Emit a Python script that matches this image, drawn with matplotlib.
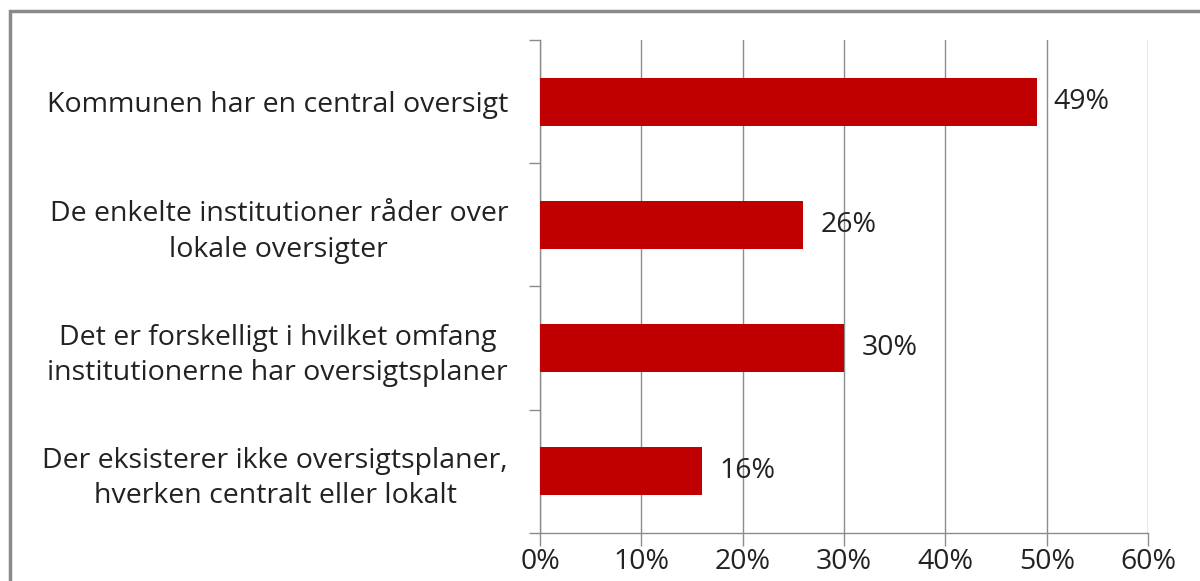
import matplotlib.pyplot as plt
from matplotlib.patches import Rectangle
import numpy as np

categories = [
    "Kommunen har en central oversigt",
    "De enkelte institutioner råder over\nlokale oversigter",
    "Det er forskelligt i hvilket omfang\ninstitutionerne har oversigtsplaner",
    "Der eksisterer ikke oversigtsplaner,\nhverken centralt eller lokalt",
]
values = [49, 26, 30, 16]
xticks = [0, 10, 20, 30, 40, 50, 60]

plt.rcParams['font.family'] = ['Open Sans', 'DejaVu Sans']
text_color = '#222222'
grid_color = '#8c8c8c'
fs = 20.5

fig = plt.figure(figsize=(12, 5.81), dpi=100)
ax = fig.add_axes([0.45, 0.0826, 0.9567 - 0.45, 0.9312 - 0.0826])

y = np.arange(len(categories))
ax.barh(y, values, height=0.39, color='#C00000', zorder=3)
for yi, v in zip(y, values):
    ax.text(v + 1.7, yi, f"{v}%", va='center', ha='left', fontsize=fs, color=text_color)

ax.set_xlim(0, 60)
ax.set_ylim(len(categories) - 0.5, -0.5)
ax.set_xticks(xticks)
ax.set_xticklabels([f"{t}%" for t in xticks], fontsize=fs, color=text_color)
ax.tick_params(axis='x', length=9, width=1, color=grid_color, pad=2)

ax.set_yticks(y)
ax.set_yticklabels(categories, fontsize=fs, color=text_color,
                   multialignment='center', linespacing=1.35)
ax.tick_params(axis='y', which='major', length=0, pad=23)
ax.set_yticks(np.arange(-0.5, len(categories)), minor=True)
ax.tick_params(axis='y', which='minor', length=8, width=1, color=grid_color)

ax.grid(axis='x', color=grid_color, linewidth=1, zorder=0)
for s in ['top', 'right']:
    ax.spines[s].set_visible(False)
for s in ['left', 'bottom']:
    ax.spines[s].set_color(grid_color)
    ax.spines[s].set_linewidth(1)

fig.patches.append(Rectangle((10 / 1200, -0.05), 1.1, 1 - 11 / 581 + 0.05,
                             transform=fig.transFigure, fill=False,
                             edgecolor='#8a8a8a', linewidth=2.5))

fig.savefig('out.png', dpi=100)
